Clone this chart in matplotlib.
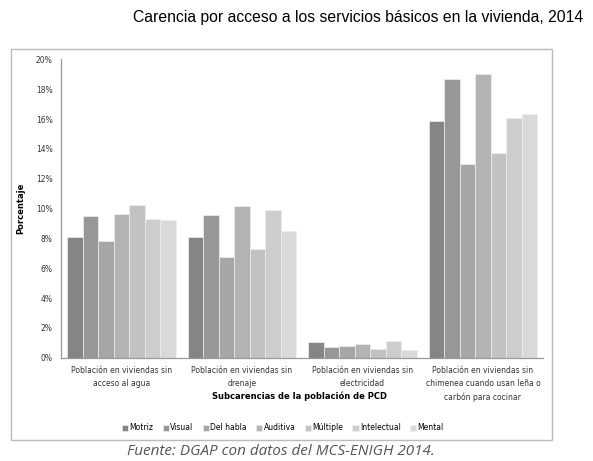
import matplotlib.pyplot as plt
from matplotlib.patches import Rectangle
import numpy as np

categorias = ["Población en viviendas sin\nacceso al agua",
              "Población en viviendas sin\ndrenaje",
              "Población en viviendas sin\nelectricidad",
              "Población en viviendas sin\nchimenea cuando usan leña o\ncarbón para cocinar"]
tipos = ["Motriz", "Visual", "Del habla", "Auditiva", "Múltiple", "Intelectual", "Mental"]
motriz = [8.1, 8.1, 1.05, 15.9]
visual = [9.5, 9.55, 0.7, 18.7]
del_habla = [7.85, 6.75, 0.8, 13.0]
auditiva = [9.65, 10.2, 0.95, 19.05]
multiple = [10.25, 7.3, 0.6, 13.75]
intelectual = [9.3, 9.9, 1.15, 16.05]
mental = [9.25, 8.5, 0.5, 16.35]
colores = ["#858585", "#979797", "#a6a6a6", "#b3b3b3", "#c2c2c2", "#cdcdcd", "#d9d9d9"]

series = [motriz, visual, del_habla, auditiva, multiple, intelectual, mental]

fig = plt.figure(figsize=(5.93, 4.61), dpi=100)
ax = fig.add_axes([0.103, 0.224, 0.813, 0.647])

x = np.arange(len(categorias))
w = 0.9 / len(series)
for i, vals in enumerate(series):
    ax.bar(x - 0.45 + w * (i + 0.5), vals, w, color=colores[i], edgecolor="#eeeeee",
           linewidth=0.5, label=tipos[i])

ax.set_xlim(-0.5, 3.5)
ax.set_ylim(0, 20)
ax.set_yticks(range(0, 21, 2))
ax.set_yticklabels([f"{v}%" for v in range(0, 21, 2)], fontsize=5.5, color="#333333")
ax.set_xticks(x)
ax.set_xticklabels(categorias, fontsize=5.5, color="#333333", linespacing=1.6)
ax.tick_params(length=0, pad=6)
for s in ["top", "right"]:
    ax.spines[s].set_visible(False)
for s in ["left", "bottom"]:
    ax.spines[s].set_color("#999999")
    ax.spines[s].set_linewidth(0.9)

ax.set_ylabel("Porcentaje", fontsize=6, fontweight="bold", labelpad=8)
fig.text(0.505, 0.14, "Subcarencias de la población de PCD", fontsize=6, fontweight="bold",
         ha="center", va="center")

fig.legend(loc="center", bbox_to_anchor=(0.477, 0.072), ncol=7, fontsize=5.5, frameon=False,
           handlelength=0.8, handleheight=0.8, handletextpad=0.2, columnspacing=1.2)

fig.text(0.604, 0.962, "Carencia por acceso a los servicios básicos en la vivienda, 2014",
         fontsize=11.3, ha="center", va="center", family="Liberation Sans")
fig.text(0.474, 0.021, "Fuente: DGAP con datos del MCS-ENIGH 2014.", fontsize=11,
         style="italic", color="#555555", ha="center", va="center", family="Open Sans")

fig.patches.append(Rectangle((0.018, 0.045), 0.913, 0.849, transform=fig.transFigure,
                             fill=False, edgecolor="#bbbbbb", linewidth=1))

fig.savefig("out.png", dpi=100)
